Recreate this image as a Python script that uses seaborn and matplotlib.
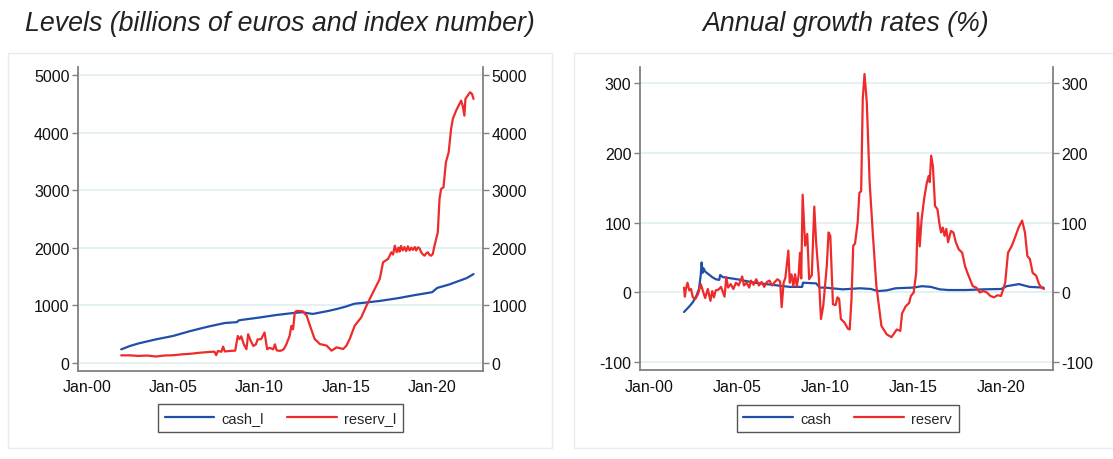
import numpy as np
import pandas as pd
import matplotlib
matplotlib.use("Agg")
import matplotlib.pyplot as plt
import matplotlib.patches as mpatches
import seaborn as sns

# ---- data (decimal years) ----
cash_l_t = [2002.0, 2002.5, 2003.0, 2004.0, 2005.0, 2006.0, 2007.0, 2008.0, 2008.7, 2008.8,
            2009.0, 2010.0, 2011.0, 2012.0, 2012.5, 2012.8, 2013.1, 2014.0, 2014.5, 2015.0,
            2015.5, 2016.0, 2017.0, 2018.0, 2019.0, 2020.0, 2020.3, 2021.0, 2022.0, 2022.4]
cash_l_v = [232, 290, 335, 405, 465, 550, 625, 690, 705, 735,
            745, 785, 830, 865, 878, 860, 848, 900, 935, 975,
            1025, 1040, 1075, 1120, 1175, 1225, 1300, 1360, 1470, 1540]

reserv_l_t = [2002.0, 2002.5, 2003.0, 2003.5, 2004.0, 2004.5, 2005.0, 2005.5, 2006.0, 2006.5,
              2007.0, 2007.4, 2007.5, 2007.6, 2007.8, 2007.9, 2008.0, 2008.3, 2008.6, 2008.75,
              2008.85, 2008.95, 2009.1, 2009.25, 2009.35, 2009.5, 2009.65, 2009.8, 2009.9, 2010.1,
              2010.3, 2010.45, 2010.6, 2010.8, 2010.9, 2011.0, 2011.2, 2011.4, 2011.55, 2011.75,
              2011.85, 2011.95, 2012.05, 2012.15, 2012.5, 2012.74, 2012.93, 2013.2, 2013.5, 2013.9,
              2014.18, 2014.47, 2014.85, 2015.04, 2015.23, 2015.52, 2015.9, 2016.2, 2016.58, 2016.97,
              2017.16, 2017.45, 2017.64, 2017.74, 2017.84, 2017.95, 2018.05, 2018.12, 2018.2, 2018.3,
              2018.4, 2018.5, 2018.6, 2018.7, 2018.8, 2018.89, 2019.0, 2019.08, 2019.18, 2019.27,
              2019.37, 2019.47, 2019.56, 2019.66, 2019.76, 2019.86, 2019.95, 2020.04, 2020.14, 2020.33,
              2020.43, 2020.52, 2020.66, 2020.8, 2020.96, 2021.1, 2021.2, 2021.39, 2021.68, 2021.77,
              2021.87, 2021.93, 2022.06, 2022.2, 2022.31, 2022.4]
reserv_l_v = [128, 128, 118, 125, 108, 125, 130, 145, 155, 172,
              185, 192, 130, 205, 190, 280, 195, 205, 210, 465,
              410, 460, 320, 235, 495, 380, 290, 320, 405, 410,
              525, 235, 260, 232, 320, 215, 205, 230, 310, 465,
              640, 580, 870, 900, 895, 817, 643, 412, 325, 296,
              209, 267, 238, 296, 412, 643, 788, 991, 1223, 1455,
              1745, 1803, 1919, 1880, 2034, 1919, 2000, 1930, 2030, 1950,
              2010, 1940, 2022, 1950, 2000, 1960, 2010, 1950, 2005, 1990,
              1919, 1880, 1860, 1900, 1919, 1870, 1860, 1890, 2034, 2266,
              2845, 3019, 3048, 3483, 3657, 4062, 4236, 4380, 4554, 4467,
              4293, 4583, 4641, 4700, 4670, 4583]

cash_g_t = [2002.0, 2002.3, 2002.5, 2002.7, 2002.85, 2002.95, 2003.0, 2003.05, 2003.1, 2003.2,
            2003.4, 2003.6, 2003.8, 2004.0, 2004.05, 2004.2, 2005.0, 2006.0, 2007.0, 2008.0,
            2008.7, 2008.75, 2009.5, 2009.7, 2010.0, 2011.0, 2012.0, 2012.6, 2013.0, 2013.5,
            2014.0, 2015.0, 2015.5, 2016.0, 2016.5, 2017.0, 2018.0, 2019.0, 2020.0, 2020.3,
            2021.0, 2021.3, 2021.6, 2022.0, 2022.4]
cash_g_v = [-28, -20, -14, -5, 5, 25, 43, 28, 35, 30,
            26, 22, 19, 18, 25, 22, 19, 14, 11, 8,
            8, 14, 13, 7, 7, 4.5, 6, 5, 2, 3,
            6, 7, 9, 8, 4.5, 3.5, 3.5, 4.5, 5, 9,
            12, 10, 8, 7.5, 7]

reserv_g_t = [2002.0, 2002.05, 2002.1, 2002.2, 2002.3, 2002.4, 2002.5, 2002.65, 2002.8, 2002.95,
              2003.1, 2003.2, 2003.35, 2003.5, 2003.6, 2003.7, 2003.8, 2003.95, 2004.1, 2004.2,
              2004.3, 2004.4, 2004.5, 2004.65, 2004.8, 2004.95, 2005.1, 2005.3, 2005.4, 2005.55,
              2005.7, 2005.8, 2005.95, 2006.1, 2006.25, 2006.4, 2006.55, 2006.7, 2006.85, 2007.0,
              2007.15, 2007.3, 2007.45, 2007.54, 2007.65, 2007.75, 2007.92, 2008.0, 2008.1, 2008.2,
              2008.3, 2008.4, 2008.5, 2008.58, 2008.65, 2008.73, 2008.87, 2008.99, 2009.1, 2009.25,
              2009.39, 2009.5, 2009.65, 2009.77, 2009.9, 2010.1, 2010.2, 2010.3, 2010.45, 2010.6,
              2010.7, 2010.8, 2010.9, 2011.1, 2011.3, 2011.4, 2011.5, 2011.6, 2011.7, 2011.85,
              2011.95, 2012.05, 2012.14, 2012.24, 2012.37, 2012.53, 2012.72, 2012.91, 2013.2, 2013.5,
              2013.77, 2014.07, 2014.27, 2014.37, 2014.57, 2014.77, 2014.87, 2015.03, 2015.17, 2015.27,
              2015.37, 2015.48, 2015.62, 2015.78, 2015.88, 2015.94, 2016.02, 2016.12, 2016.24, 2016.38,
              2016.48, 2016.58, 2016.68, 2016.78, 2016.88, 2016.98, 2017.14, 2017.28, 2017.42, 2017.58,
              2017.78, 2017.94, 2018.08, 2018.22, 2018.38, 2018.58, 2018.78, 2018.98, 2019.18, 2019.38,
              2019.58, 2019.78, 2019.98, 2020.1, 2020.22, 2020.38, 2020.58, 2020.78, 2020.98, 2021.18,
              2021.34, 2021.48, 2021.62, 2021.78, 2021.98, 2022.14, 2022.28, 2022.42]
reserv_g_v = [7, -6, 4, 14, 3, 5, -7, -9, -2, 12,
              0, -8, 5, -12, 2, -7, 3, 4, 8, 1,
              -6, 22, 7, 12, 5, 14, 10, 23, 10, 14,
              7, 17, 11, 19, 10, 15, 8, 15, 17, 10,
              15, 19, 16, -21, 14, 21, 60, 14, 26, 9,
              26, 9, 24, 57, 20, 140, 67, 84, 19, 25,
              123, 70, 22, -38, -19, 38, 86, 81, -17, -18,
              -7, -9, -38, -43, -52, -53, -10, 67, 70, 100,
              143, 145, 277, 313, 272, 158, 81, 10, -48, -60,
              -64, -53, -55, -30, -20, -15, -5, 0, 28, 114,
              66, 105, 134, 158, 167, 158, 196, 181, 124, 119,
              100, 86, 93, 81, 91, 72, 88, 86, 72, 62,
              57, 38, 28, 19, 9, 7, 0, 2, 0, -5,
              -7, -4, -5, 4, 14, 57, 66, 79, 93, 103,
              86, 52, 48, 28, 24, 12, 7, 5]

xtick_years = [2000, 2005, 2010, 2015, 2020]
xtick_labels = ["Jan-00", "Jan-05", "Jan-10", "Jan-15", "Jan-20"]

BLUE = "#1f4fa8"
RED = "#ee2b2b"

sns.set_style("white")
plt.rcParams["font.family"] = ["Liberation Sans", "DejaVu Sans"]
plt.rcParams["axes.unicode_minus"] = False

fig = plt.figure(figsize=(11.13, 4.6), dpi=100)

# light outer frames around each panel
for x0, w in [(0.0072, 0.4888), (0.5157, 0.49)]:
    fig.patches.append(mpatches.Rectangle((x0, 0.0239), w, 0.8587, transform=fig.transFigure,
                                          fill=False, edgecolor="#e4eeee", lw=1.0))

ax1 = fig.add_axes([0.0701, 0.1913, 0.3639, 0.6598])
ax2 = fig.add_axes([0.5748, 0.1928, 0.3711, 0.6600])

sns.lineplot(x=cash_l_t, y=cash_l_v, ax=ax1, color=BLUE, lw=1.6, label="cash_l")
sns.lineplot(x=reserv_l_t, y=reserv_l_v, ax=ax1, color=RED, lw=1.6, label="reserv_l")
sns.lineplot(x=cash_g_t, y=cash_g_v, ax=ax2, color=BLUE, lw=1.6, label="cash")
sns.lineplot(x=reserv_g_t, y=reserv_g_v, ax=ax2, color=RED, lw=1.6, label="reserv")

ax1.set_ylim(-144, 5130)
ax1.set_yticks([0, 1000, 2000, 3000, 4000, 5000])
ax1.set_xlim(1999.5, 2022.95)
ax2.set_ylim(-111.5, 323.4)
ax2.set_yticks([-100, 0, 100, 200, 300])
ax2.set_xlim(1999.49, 2022.92)

for ax in (ax1, ax2):
    ax.set_xticks(xtick_years)
    ax.set_xticklabels(xtick_labels)
    ax.set_xlabel("")
    ax.set_ylabel("")
    ax.grid(axis="y", color="#e3efef", lw=1.3)
    ax.set_axisbelow(True)
    ax.spines["top"].set_visible(False)
    for s in ("left", "right", "bottom"):
        ax.spines[s].set_visible(True)
        ax.spines[s].set_color("#808080")
        ax.spines[s].set_linewidth(1.3)
    ax.tick_params(axis="both", direction="out", length=4, width=1, color="#808080",
                   labelsize=11.5, labelcolor="#111111", pad=2)
    ax.tick_params(axis="y", right=True, labelright=True, left=True, labelleft=True)
    ax.get_legend().remove()

leg_kw = dict(ncol=2, loc="center", fancybox=False, frameon=True, fontsize=10.5,
              handlelength=3.4, handletextpad=0.5, columnspacing=1.6,
              borderpad=0.45, edgecolor="#555555")
h1, l1 = ax1.get_legend_handles_labels()
lg1 = fig.legend(h1, l1, bbox_to_anchor=(0.252, 0.0891), bbox_transform=fig.transFigure, **leg_kw)
h2, l2 = ax2.get_legend_handles_labels()
lg2 = fig.legend(h2, l2, bbox_to_anchor=(0.7615, 0.088), bbox_transform=fig.transFigure, **leg_kw)
for lg in (lg1, lg2):
    lg.get_frame().set_linewidth(1.0)
    lg.get_frame().set_alpha(None)

fig.text(0.2516, 0.948, "Levels (billions of euros and index number)", ha="center", va="center",
         fontsize=19.3, style="italic", color="#222222")
fig.text(0.760, 0.948, "Annual growth rates (%)", ha="center", va="center",
         fontsize=19.3, style="italic", color="#222222")

fig.savefig("out.png", dpi=100)
